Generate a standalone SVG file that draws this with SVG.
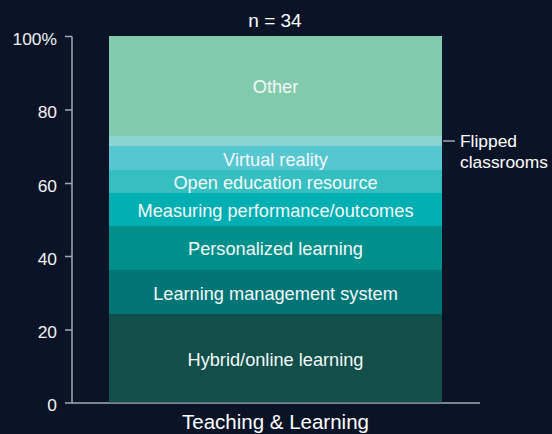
<svg xmlns="http://www.w3.org/2000/svg" width="552" height="434" viewBox="0 0 552 434">
<style>
text{font-family:"Liberation Sans","Noto Sans",Arial,sans-serif;fill:#ffffff}
.seg{font-size:18.2px;text-anchor:middle;fill:#f4f7f8}
.tick{font-size:17.4px;text-anchor:end;fill:#f0f2f4}
.ax{stroke:#a3abb3;stroke-width:1.5;fill:none}
</style>
<rect x="0" y="0" width="552" height="434" fill="#0b1427"/>
<text x="275" y="27" font-size="19" text-anchor="middle">n = 34</text>
<g id="axes">
<path class="ax" d="M72,36.5V403M65,403H480M65,36.5H72M65,110H72M65,183.5H72M65,256.5H72M65,330H72"/>
<text class="tick" x="57" y="45">100%</text>
<text class="tick" x="57" y="118">80</text>
<text class="tick" x="57" y="191.5">60</text>
<text class="tick" x="57" y="264.5">40</text>
<text class="tick" x="57" y="338">20</text>
<text class="tick" x="57" y="411">0</text>
</g>
<g id="hybrid"><rect x="109" y="314" width="333" height="88.3" fill="#124f4a"/><text class="seg" x="275.5" y="366">Hybrid/online learning</text></g>
<g id="lms"><rect x="109" y="270" width="333" height="44" fill="#007576"/><text class="seg" x="275.5" y="300">Learning management system</text></g>
<g id="personalized"><rect x="109" y="226" width="333" height="44" fill="#00908c"/><text class="seg" x="275.5" y="255">Personalized learning</text></g>
<g id="measuring"><rect x="109" y="193" width="333" height="33" fill="#00afb2"/><text class="seg" x="275.5" y="217">Measuring performance/outcomes</text></g>
<g id="open-education"><rect x="109" y="170" width="333" height="23" fill="#35bfc1"/><text class="seg" x="275.5" y="189">Open education resource</text></g>
<g id="virtual-reality"><rect x="109" y="146" width="333" height="24" fill="#56c6d0"/><text class="seg" x="275.5" y="166">Virtual reality</text></g>
<g id="flipped"><rect x="109" y="136" width="333" height="10" fill="#8ad4d1"/><text x="460" y="147" font-size="17.4">Flipped</text><text x="460" y="168" font-size="17.4">classrooms</text></g>
<g id="other"><rect x="109" y="36" width="333" height="100" fill="#81cbac"/><text class="seg" x="275.5" y="93">Other</text></g>
<g id="connectors"><line x1="443" y1="141" x2="455" y2="141" stroke="#c8ccd0" stroke-width="1.2"/></g>
<text x="275.5" y="429" font-size="20.5" text-anchor="middle">Teaching &amp; Learning</text>
</svg>
